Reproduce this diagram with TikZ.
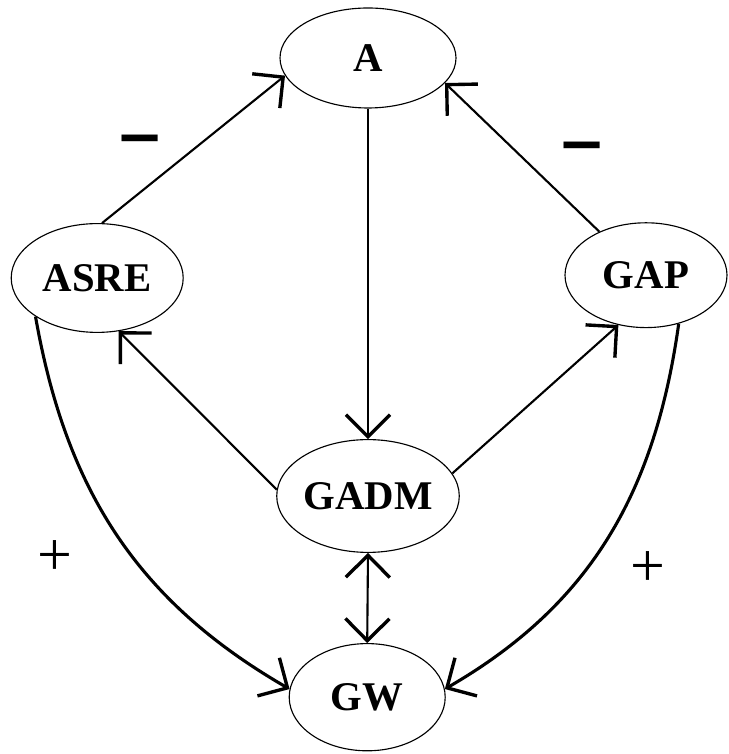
\documentclass[tikz,border=0pt]{standalone}
\usepackage{fontspec}
\setmainfont{Liberation Serif}
\usetikzlibrary{arrows.meta,shapes.geometric}

\begin{document}
\begin{tikzpicture}[
  x=1cm,
  y=1cm,
  line/.style={draw=black,line width=1.5pt},
  barb/.style={-{Straight Barb[length=5.5mm,width=11mm,line width=2.4pt]}},
  arrow/.style={line,barb},
  curve/.style={arrow,line width=2.2pt},
  bubble/.style={draw=black,line width=0.8pt,ellipse,inner sep=0pt,
                 font=\bfseries\fontsize{29}{33}\selectfont},
  sign/.style={font=\fontsize{50}{50}\selectfont}
]
\useasboundingbox (0,0) rectangle (18.2,18.85);

% ---------------------------------------------------------------- nodes
\node[bubble,minimum width=4.4cm,minimum height=2.5cm]    (A)    at (9.20,17.40) {A};
\node[bubble,minimum width=4.3cm,minimum height=2.72cm]   (ASRE) at (2.43,11.90) {ASRE};
\node[bubble,minimum width=4.05cm,minimum height=2.62cm]  (GAP)  at (16.15,11.97) {GAP};
\node[bubble,minimum width=4.38cm,minimum height=2.82cm]  (GADM) at (9.20,6.45) {GADM};
\node[bubble,minimum width=3.9cm,minimum height=2.68cm]   (GW)   at (9.18,1.42) {GW};

% ---------------------------------------------------------------- upper links
\draw[arrow] (ASRE.85) -- (A.192);
\draw[arrow] (GAP.137) -- (A.342);
\draw[arrow] (A.south) -- (GADM.north);
\draw[arrow] (GADM.176) -- (ASRE.292);
\draw[arrow] (GADM.15) -- (GAP.241);

% ---------------------------------------------------------------- lower links
\draw[line,{Straight Barb[length=5.5mm,width=11mm,line width=2.4pt]}-{Straight Barb[length=5.5mm,width=11mm,line width=2.4pt]}]
  (GADM.south) -- (GW.north);
\draw[curve] (ASRE.212) to[out=-80,in=150] (GW.174);
\draw[curve] (GAP.304) to[out=-98,in=30] (GW.6);

% ---------------------------------------------------------------- signs
\node[sign] (mleft)  at (3.50,15.15) {\scalebox{1}[1.35]{\textbf{–}}};
\node[sign] (mright) at (14.55,14.97) {\scalebox{1}[1.35]{\textbf{–}}};
\node[sign,font=\fontsize{44}{44}\selectfont] (pleft)  at (1.38,4.90) {+};
\node[sign,font=\fontsize{44}{44}\selectfont] (pright) at (16.20,4.62) {+};

\end{tikzpicture}
\end{document}
